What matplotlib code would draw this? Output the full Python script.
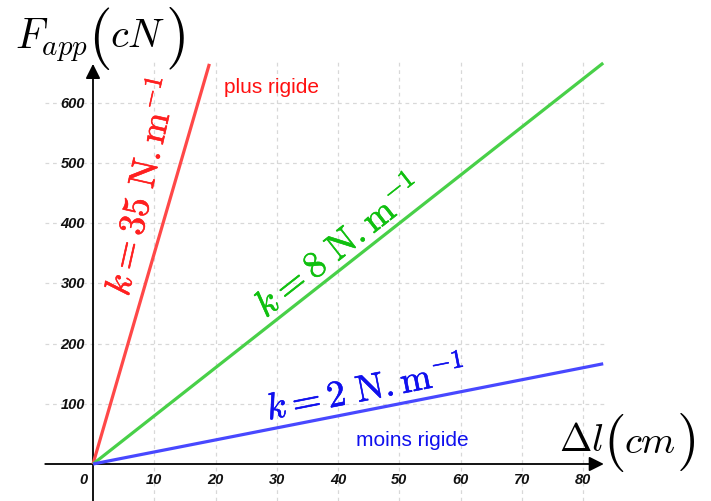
import numpy as np
import matplotlib
matplotlib.use('Agg')
import matplotlib.pyplot as plt
import matplotlib.patheffects as pe

# stiffness values (cN/cm) and plotted extent of each line
k_values = [35, 8, 2]
dl_max = [19, 83.3, 83.3]
line_colors = ['#ff4848', '#48d048', '#4848ff']
k_labels = [r'$k=35\ \mathrm{N.m^{-1}}$', r'$k=8\ \mathrm{N.m^{-1}}$', r'$k=2\ \mathrm{N.m^{-1}}$']
label_pos = [(8.1, 461), (40.2, 360), (44.6, 123)]
label_tilt = [3.5, 0, 0]
label_colors = ['#ff2020', '#10c010', '#1010ee']

x_ticks = [0, 10, 20, 30, 40, 50, 60, 70, 80]
y_ticks = [100, 200, 300, 400, 500, 600]

plt.rcParams['mathtext.fontset'] = 'cm'
fig = plt.figure(figsize=(7.11, 5.02), dpi=100)
ax = fig.add_axes([0, 0, 1, 1])
ax.set_xlim(-93 / 6.125, (711 - 93) / 6.125)
ax.set_ylim(-(502 - 465) / 0.6017, 465 / 0.6017)
ax.axis('off')

x_lo, x_hi = -7.8, 83.6
y_lo, y_hi = -62, 668

# dashed grid
grid_kw = dict(color='#d8d8d8', lw=0.9, linestyle=(0, (3, 3)), zorder=1)
for xv in x_ticks[1:]:
    ax.plot([xv, xv], [y_lo, y_hi], **grid_kw)
for yv in y_ticks:
    ax.plot([x_lo, x_hi], [yv, yv], **grid_kw)

# axes with arrows
arrow_kw = dict(arrowstyle='-|>', lw=1.3, color='black', mutation_scale=22, shrinkA=0, shrinkB=0)
ax.annotate('', xy=(83.4, 0), xytext=(x_lo, 0), arrowprops=arrow_kw, zorder=3)
ax.annotate('', xy=(0, 665), xytext=(0, y_lo), arrowprops=arrow_kw, zorder=3)

# tick labels
tick_font = dict(family='Liberation Sans', fontweight='bold', fontstyle='italic', fontsize=10.5,
                 color='#111111')
for xv in x_ticks:
    ax.text(xv - (1.6 if xv == 0 else 0), -25, str(xv), ha='center', va='center', **tick_font)
for yv in y_ticks:
    ax.text(-1.3, yv, str(yv), ha='right', va='center', **tick_font)

# lines
for k, xm, c in zip(k_values, dl_max, line_colors):
    dl = np.array([0, xm])
    ax.plot(dl, k * dl, color=c, lw=2.3, zorder=4, solid_capstyle='butt')

# rotated labels along the lines
fig.canvas.draw()
for k, txt, (lx, ly), tilt, c in zip(k_values, k_labels, label_pos, label_tilt, label_colors):
    p0 = ax.transData.transform((0, 0))
    p1 = ax.transData.transform((10, 10 * k))
    ang = np.degrees(np.arctan2(p1[1] - p0[1], p1[0] - p0[0])) + tilt
    ax.text(lx, ly, txt, color=c, fontsize=27, rotation=ang, rotation_mode='anchor',
            ha='center', va='center', zorder=5,
            path_effects=[pe.withStroke(linewidth=0.4, foreground=c)])

ax.text(21.4, 627, 'plus rigide', color='#ff1010', fontsize=15, family='Liberation Sans',
        ha='left', va='center')
ax.text(42.9, 41, 'moins rigide', color='#1010ee', fontsize=15, family='Liberation Sans',
        ha='left', va='center')


# axis titles: pieces chained left to right, with tall parentheses
def title_pieces(x0, y0, pieces):
    renderer = fig.canvas.get_renderer()
    px = ax.transData.transform((x0, y0))
    cur_x = px[0]
    inv = ax.transData.inverted()
    for s, size, dy in pieces:
        pos = inv.transform((cur_x, px[1] + dy))
        t = ax.text(pos[0], pos[1], s, fontsize=size, ha='left', va='center')
        bb = t.get_window_extent(renderer)
        cur_x = bb.x1


title_pieces(-12.8, 706, [(r'$F_{app}$', 30, 0), (r'$($', 44, 2), (r'$cN$', 29, 4), (r'$)$', 44, 2)])
title_pieces(76.0, 41, [(r'$\Delta l$', 28, 0), (r'$($', 42, -2), (r'$cm$', 28, -2), (r'$)$', 42, -2)])

fig.savefig('out.png', dpi=100)
